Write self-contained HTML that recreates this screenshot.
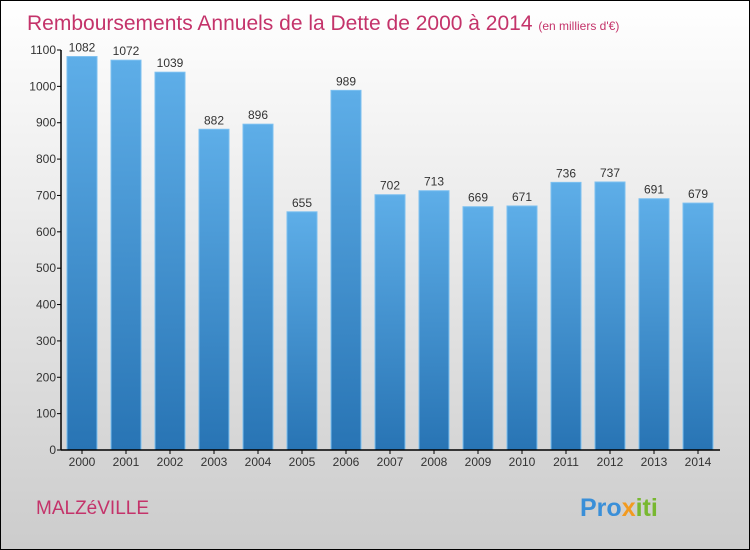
<!DOCTYPE html>
<html><head><meta charset="utf-8"><style>
body{margin:0}
#c{width:750px;height:550px;position:relative;overflow:hidden}
</style></head><body>
<div id="c">
<svg width="750" height="550" xmlns="http://www.w3.org/2000/svg" font-family="Liberation Sans, sans-serif">
<defs>
<linearGradient id="bg" x1="0" y1="0" x2="0" y2="1"><stop offset="0" stop-color="#ffffff"/><stop offset="1" stop-color="#cccccc"/></linearGradient>
<linearGradient id="bar" x1="0" y1="0" x2="0" y2="1"><stop offset="0" stop-color="#5eaee8"/><stop offset="1" stop-color="#2874b4"/></linearGradient>
</defs>
<rect x="0.5" y="0.5" width="749" height="549" fill="url(#bg)" stroke="#000"/>
<text x="27" y="30" font-size="21" fill="#c4336a">Remboursements Annuels de la Dette de 2000 à 2014 <tspan font-size="12">(en milliers d'€)</tspan></text>
<g id="plot"></g>
<text x="36" y="514" font-size="19" fill="#c4336a">MALZéVILLE</text>
<text x="580" y="516" font-size="25" font-weight="bold"><tspan fill="#3a8fd8">Pro</tspan><tspan fill="#f29a1f">x</tspan><tspan fill="#78b830">iti</tspan></text>
</svg>
</div>
<script>
const categories=["2000","2001","2002","2003","2004","2005","2006","2007","2008","2009","2010","2011","2012","2013","2014"];
const values=[1082,1072,1039,882,896,655,989,702,713,669,671,736,737,691,679];
const ticks=[0,100,200,300,400,500,600,700,800,900,1000,1100];
const NS="http://www.w3.org/2000/svg";
const g=document.getElementById('plot');
const y=v=>450-v*400/1100, x=i=>82+44*i;
function el(t,a){const e=document.createElementNS(NS,t);for(const k in a)e.setAttribute(k,a[k]);g.appendChild(e);return e;}
values.forEach((v,i)=>{
 const r=el('rect',{x:x(i)-15,y:y(v),width:30,height:450-y(v),fill:'url(#bar)',stroke:'#7cc0f0','stroke-width':1});
 
 
 const t=el('text',{x:x(i),y:y(v)-5,'text-anchor':'middle','font-size':12,fill:'#333'});t.textContent=v;
 
 
 const c=el('text',{x:x(i),y:466,'text-anchor':'middle','font-size':12,fill:'#333'});c.textContent=categories[i];
 
 
 el('line',{x1:x(i),x2:x(i),y1:450,y2:454,stroke:'#000'});
});
ticks.forEach(v=>{
 el('line',{x1:57,x2:61,y1:y(v),y2:y(v),stroke:'#000'});
 const t=el('text',{x:56,y:y(v)+4,'text-anchor':'end','font-size':12,fill:'#333'});t.textContent=v;
 
 
});
const ya=el('line',{x1:61,x2:61,y1:50,y2:450,stroke:'#000','stroke-width':1.5});


const xa=el('line',{x1:61,x2:720,y1:450,y2:450,stroke:'#000','stroke-width':1.5});


</script>
</body></html>
